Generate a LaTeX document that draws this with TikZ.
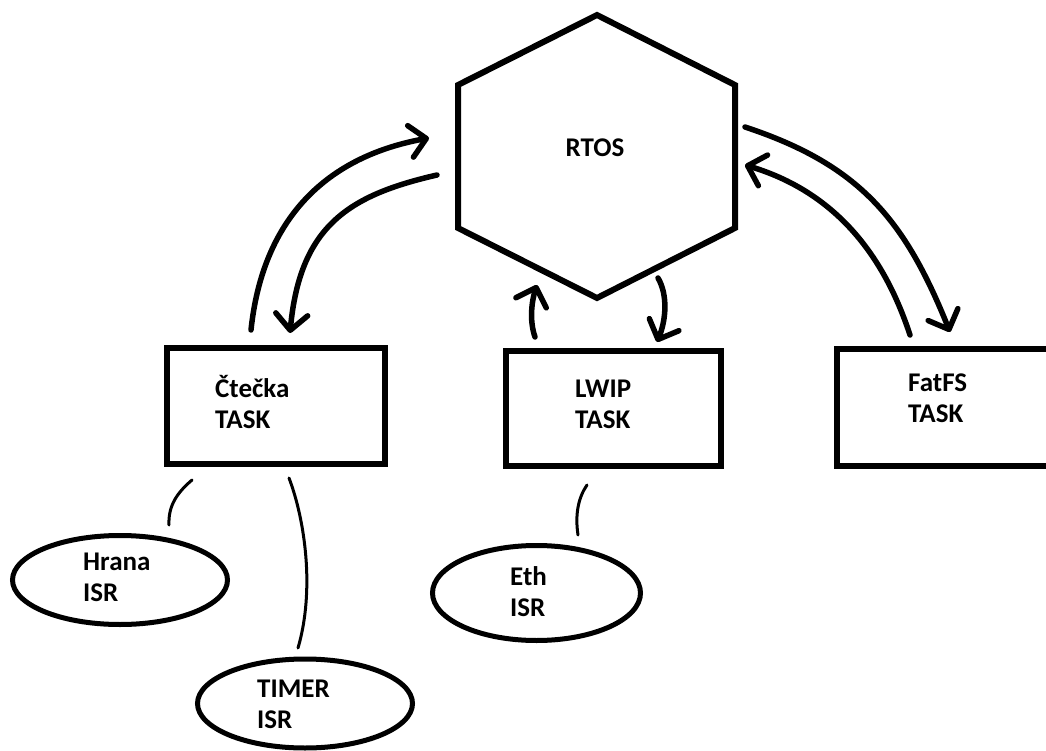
\documentclass[tikz,border=0pt]{standalone}
\usepackage{fontspec}
\setmainfont{Carlito}
\usetikzlibrary{arrows.meta,shapes.geometric}
\newcommand\tlab[2]{\begin{tabular}[t]{@{}l@{}}#1\\#2\end{tabular}}
\begin{document}
\begin{tikzpicture}[x=1pt,y=-1pt,
  every node/.style={font=\bfseries\fontsize{27}{31.5}\selectfont},
  box/.style={draw,line width=6.5pt,rectangle,inner sep=0pt},
  oval/.style={draw,line width=5pt,ellipse,inner sep=0pt,minimum width=215pt,minimum height=89pt},
  lbl/.style={anchor=base west,inner sep=0pt},
  hexa/.style={line width=6pt},
  arr/.style={line width=5.5pt,line cap=round,-{Straight Barb[length=16pt,width=32pt,round]}},
  link/.style={line width=3pt,line cap=round}]
\useasboundingbox (0,0) rectangle (1046,751);
\fill[white] (0,0) rectangle (1046,751);
% RTOS hexagon
\draw[hexa] (597,15) -- (735,85) -- (735,228) -- (597,298) -- (458,228) -- (458,85) -- cycle;
\node[anchor=base,inner sep=0pt] (rtos) at (595,157) {RTOS};
% task boxes
\node[box,minimum width=218pt,minimum height=116pt] (ctecka) at (276,406) {};
\node[lbl] (cteckat) at (215,397) {\tlab{Čtečka}{TASK}};
\node[box,minimum width=215pt,minimum height=115pt] (lwip) at (613.5,408.5) {};
\node[lbl] (lwipt) at (575,397) {\tlab{LWIP}{TASK}};
\node[box,minimum width=223pt,minimum height=117pt] (fatfs) at (948.5,407.5) {};
\node[lbl] (fatfst) at (908,391) {\tlab{FatFS}{TASK}};
% ISR ellipses
\node[oval] (hrana) at (120,580) {};
\node[lbl] (hranat) at (83,570) {\tlab{Hrana}{ISR}};
\node[oval] (timer) at (305,703.5) {};
\node[lbl] (timert) at (257,697) {\tlab{TIMER}{ISR}};
\node[oval,minimum width=208pt,minimum height=95pt] (eth) at (536.5,593) {};
\node[lbl] (etht) at (510,585) {\tlab{Eth}{ISR}};
% connector end points
\coordinate (a1s) at (251,330); \coordinate (a1e) at (429,138);
\coordinate (a2s) at (437,175); \coordinate (a2e) at (290,333);
\coordinate (a3s) at (535,337); \coordinate (a3e) at (537,285);
\coordinate (a4s) at (658,278); \coordinate (a4e) at (657,342);
\coordinate (a5s) at (745,127); \coordinate (a5e) at (950,332);
\coordinate (a6s) at (910,335); \coordinate (a6e) at (745,165);
\coordinate (l1s) at (192,480); \coordinate (l1e) at (169,525);
\coordinate (l2s) at (289,478); \coordinate (l2e) at (298,648);
\coordinate (l3s) at (587,485); \coordinate (l3e) at (578,535);
% arrows
\draw[arr] (a1s) .. controls (262,225) and (320,158) .. (a1e);
\draw[arr] (a2s) .. controls (350,195) and (300,225) .. (a2e);
\draw[arr] (a3s) .. controls (529,320) and (532,300) .. (a3e);
\draw[arr] (a4s) .. controls (668,295) and (666,320) .. (a4e);
\draw[arr] (a5s) .. controls (860,165) and (905,220) .. (a5e);
\draw[arr] (a6s) .. controls (888,268) and (845,195) .. (a6e);
% ISR links
\draw[link] (l1s) .. controls (178,492) and (168,505) .. (l1e);
\draw[link] (l2s) .. controls (305,520) and (315,590) .. (l2e);
\draw[link] (l3s) .. controls (578,498) and (575,515) .. (l3e);
\end{tikzpicture}
\end{document}
